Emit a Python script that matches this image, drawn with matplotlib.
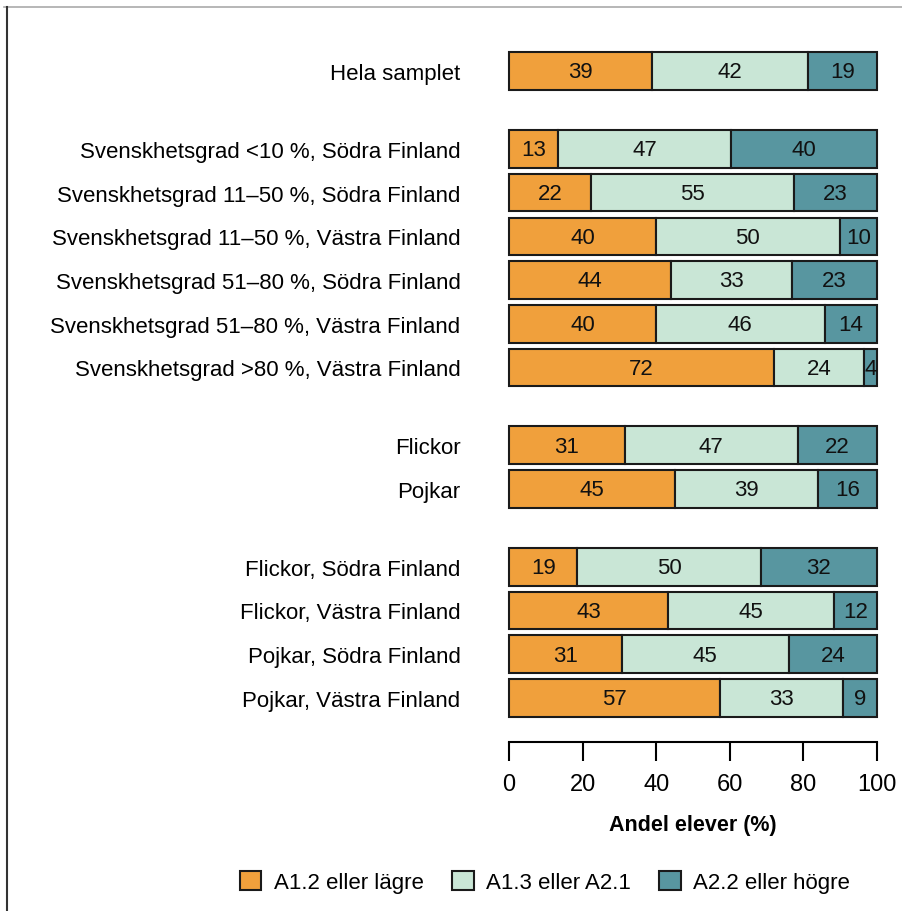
import numpy as np
import matplotlib.pyplot as plt
from matplotlib.lines import Line2D

plt.rcParams['font.family'] = ['Liberation Sans', 'DejaVu Sans']

groups = ["Hela samplet",
          "Svenskhetsgrad <10 %, Södra Finland",
          "Svenskhetsgrad 11–50 %, Södra Finland",
          "Svenskhetsgrad 11–50 %, Västra Finland",
          "Svenskhetsgrad 51–80 %, Södra Finland",
          "Svenskhetsgrad 51–80 %, Västra Finland",
          "Svenskhetsgrad >80 %, Västra Finland",
          "Flickor",
          "Pojkar",
          "Flickor, Södra Finland",
          "Flickor, Västra Finland",
          "Pojkar, Södra Finland",
          "Pojkar, Västra Finland"]
# block each row belongs to (empty gap between blocks)
block = [0, 1, 1, 1, 1, 1, 1, 2, 2, 3, 3, 3, 3]

low = [38.9, 13.2, 22.2, 39.9, 44.1, 39.9, 72.1, 31.4, 45.2, 18.6, 43.3, 30.6, 57.4]
mid = [42.4, 47.2, 55.2, 50.0, 32.9, 45.9, 24.3, 47.0, 38.8, 49.8, 44.9, 45.4, 33.4]
high = [18.7, 39.6, 22.6, 10.1, 23.0, 14.2, 3.6, 21.6, 16.0, 31.6, 11.8, 24.0, 9.2]

series = ["A1.2 eller lägre", "A1.3 eller A2.1", "A2.2 eller högre"]
colors = ["#F0A03C", "#C9E6D6", "#5896A0"]

gap = 0.78
ypos = np.arange(len(groups)) + np.array(block) * gap

fig = plt.figure(figsize=(9.03, 9.12), dpi=100)
ax = fig.add_axes([509/903, 1 - 743/912, 368/903, (743 - 52)/912])

left = np.zeros(len(groups))
for vals, col, name in zip([low, mid, high], colors, series):
    vals = np.array(vals)
    ax.barh(ypos, vals, left=left, height=0.86, color=col,
            edgecolor="#1a1a1a", linewidth=1.5, label=name, clip_on=False)
    for y, l, v in zip(ypos, left, vals):
        ax.text(l + v / 2, y + 0.02, f"{v:.0f}", ha="center", va="center",
                fontsize=16, color="#111111")
    left += vals

ax.set_xlim(0, 100)
ax.set_ylim(15.35, -0.46)
for s in ["top", "right", "left"]:
    ax.spines[s].set_visible(False)
ax.spines["bottom"].set_bounds(0, 100)
ax.spines["bottom"].set_linewidth(1.5)
ax.set_xticks([0, 20, 40, 60, 80, 100])
ax.tick_params(axis="x", length=14, width=1.5, pad=8, labelsize=17)
ax.set_yticks(ypos)
ax.set_yticklabels(groups, fontsize=16)
ax.tick_params(axis="y", length=0, pad=35)
ax.set_xlabel("Andel elever (%)", fontsize=15.5, fontweight="bold", labelpad=14)

handles, labels = ax.get_legend_handles_labels()
fig.legend(handles, labels, loc="center", bbox_to_anchor=(545/903, 1 - 883/912),
           ncol=3, frameon=False, fontsize=16, handlelength=0.95, handleheight=0.95,
           handletextpad=0.55, columnspacing=1.3)

# thin frame lines around the figure
fig.add_artist(Line2D([4/903, 1], [1 - 8/912, 1 - 8/912], color="#aaaaaa", lw=1.2))
fig.add_artist(Line2D([7/903, 7/903], [0, 1 - 8/912], color="#333333", lw=1.5))

fig.savefig("out.png", dpi=100)
